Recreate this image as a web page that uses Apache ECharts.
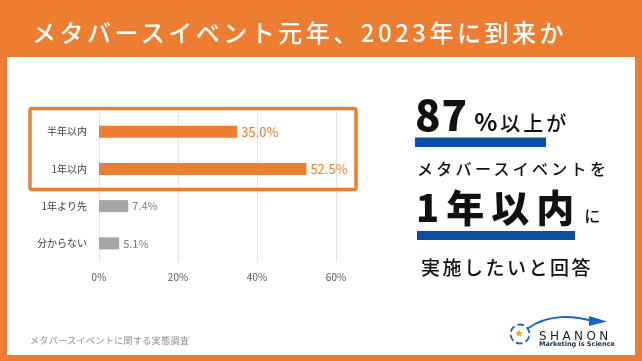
<!DOCTYPE html>
<html><head><meta charset="utf-8">
<script src="https://cdn.jsdelivr.net/npm/echarts@6/dist/echarts.min.js"></script>
<style>
html,body{margin:0;padding:0;width:642px;height:361px;overflow:hidden;background:#ED7D31;}
#wrap{position:relative;width:642px;height:361px;}
#chart{position:absolute;left:0;top:0;width:642px;height:361px;}
.t{position:absolute;white-space:nowrap;font-family:"Noto Sans CJK JP","Noto Sans",sans-serif;pointer-events:none;}
</style></head>
<body><div id="wrap"><div id="chart"></div>
<div class="t" id="title" style="left:32px;top:20px;font-size:24px;line-height:24px;color:#fff;letter-spacing:3.5px;font-weight:500;"></div>
<div class="t" id="l1" style="left:415px;top:92px;font-size:42px;line-height:42px;color:#111;"></div>
<div class="t" id="l2" style="left:417px;top:160px;font-size:16px;line-height:16px;color:#111;letter-spacing:3.3px;font-weight:500;"></div>
<div class="t" id="l3" style="left:416px;top:187px;font-size:38px;line-height:38px;color:#111;"></div>
<div class="t" id="l4" style="left:421px;top:257px;font-size:19px;line-height:19px;color:#111;letter-spacing:2.5px;font-weight:500;"></div>
<div class="t" id="src" style="left:30px;top:336px;font-size:9px;line-height:9px;color:#8c8c8c;letter-spacing:0.4px;"></div>
<div class="t" id="logo1" style="left:539px;top:330px;font-size:12px;line-height:12px;color:#1b1f2e;letter-spacing:3.4px;font-family:'DejaVu Sans',sans-serif;"></div>
<div class="t" id="logo2" style="left:539px;top:341px;font-size:6.5px;line-height:7px;color:#1b2a4a;font-weight:700;font-family:'DejaVu Sans',sans-serif;"></div>
</div>
<script>
// ---- data ----
const categories = ['半年以内', '1年以内', '1年より先', '分からない'];
const values = [35.0, 52.5, 7.4, 5.1];
const highlighted = [true, true, false, false];
const xTicks = [0, 20, 40, 60];
const titleText = 'メタバースイベント元年、2023年に到来か';
const calloutBig = '87';
const calloutPct = '%';
const calloutRest = '以上が';
const callout2 = 'メタバースイベントを';
const callout3Big = '1年以内';
const callout3Small = 'に';
const callout4 = '実施したいと回答';
const sourceText = 'メタバースイベントに関する実態調査';
const logoName = 'SHANON';
const logoTag = 'Marketing is Science';

const ORANGE = '#ED7D31', GRAY = '#A5A5A5', BLUE = '#0B4EA2';

document.getElementById('title').textContent = titleText;
document.getElementById('l1').innerHTML =
  '<span style="font-weight:900;letter-spacing:1px;">' + calloutBig + '</span>' +
  '<span style="font-size:24px;font-weight:700;margin-left:6px;">' + calloutPct + '</span>' +
  '<span style="font-size:20px;font-weight:500;letter-spacing:3px;margin-left:3px;">' + calloutRest + '</span>';
document.getElementById('l2').textContent = callout2;
document.getElementById('l3').innerHTML =
  '<span style="font-weight:900;letter-spacing:7px;">' + callout3Big + '</span>' +
  '<span style="font-size:16px;font-weight:500;margin-left:3px;">' + callout3Small + '</span>';
document.getElementById('l4').textContent = callout4;
document.getElementById('src').textContent = sourceText;
document.getElementById('logo1').textContent = logoName;
document.getElementById('logo2').textContent = logoTag;

const chart = echarts.init(document.getElementById('chart'), null, {renderer: 'canvas'});

function starPts(cx, cy, R, r) {
  const p = [];
  for (let i = 0; i < 10; i++) {
    const a = -Math.PI / 2 + i * Math.PI / 5;
    const rr = i % 2 === 0 ? R : r;
    p.push([cx + rr * Math.cos(a), cy + rr * Math.sin(a)]);
  }
  return p;
}
const ring = [];
for (let i = 0; i < 6; i++) {
  const a0 = i * Math.PI / 3 + 0.25, a1 = a0 + 0.7;
  ring.push({type: 'arc', shape: {cx: 520, cy: 334, r: 9.5, startAngle: a0, endAngle: a1},
    style: {stroke: '#1E63B8', lineWidth: 1.8, fill: null}, z: 10});
}

chart.setOption({
  animation: false,
  backgroundColor: ORANGE,
  grid: {left: 99, right: 306, top: 113, bottom: 99},
  xAxis: {
    type: 'value', min: 0, max: 60, interval: 20,
    axisLine: {show: false}, axisTick: {show: false},
    splitLine: {lineStyle: {color: '#E3E3E3', width: 1}},
    axisLabel: {formatter: '{value}%', color: '#595959', fontSize: 10, margin: 10,
      fontFamily: 'Noto Sans CJK JP'}
  },
  yAxis: {
    type: 'category', data: categories, inverse: true,
    axisLine: {show: false}, axisTick: {show: false},
    axisLabel: {color: '#404040', fontSize: 10, margin: 12, fontFamily: 'Noto Sans CJK JP'}
  },
  series: [{
    type: 'bar', barWidth: 12,
    data: values.map((v, i) => ({
      value: v,
      itemStyle: {color: highlighted[i] ? ORANGE : GRAY},
      label: {show: true, position: 'right', distance: 4,
        formatter: v.toFixed(1) + '%',
        color: highlighted[i] ? ORANGE : '#7F7F7F',
        fontSize: highlighted[i] ? 13 : 11,
        fontFamily: 'Noto Sans CJK JP'}
    })),
    z: 3
  }],
  graphic: [
    {type: 'rect', shape: {x: 7, y: 57, width: 628, height: 298}, style: {fill: '#fff'}, z: -10, silent: true},
    {type: 'rect', shape: {x: 30, y: 108.5, width: 326, height: 81, r: 2},
      style: {fill: null, stroke: ORANGE, lineWidth: 3.5}, z: 20},
    {type: 'rect', shape: {x: 415, y: 137.5, width: 131, height: 9.5}, style: {fill: BLUE}, z: 5},
    {type: 'rect', shape: {x: 417, y: 231, width: 158, height: 9}, style: {fill: BLUE}, z: 5},
    {type: 'bezierCurve', shape: {x1: 527, y1: 329, x2: 592, y2: 321, cpx1: 548, cpy1: 313, cpx2: 575, cpy2: 316},
      style: {stroke: '#1565C0', lineWidth: 2, fill: null}, z: 10},
    {type: 'polygon', shape: {points: [[589, 316], [607, 321.5], [589, 326]]}, style: {fill: '#1565C0'}, z: 10},
    {type: 'polygon', shape: {points: starPts(519, 333.5, 4, 1.8)}, style: {fill: '#F4A81D'}, z: 11}
  ].concat(ring)
});
</script></body></html>
